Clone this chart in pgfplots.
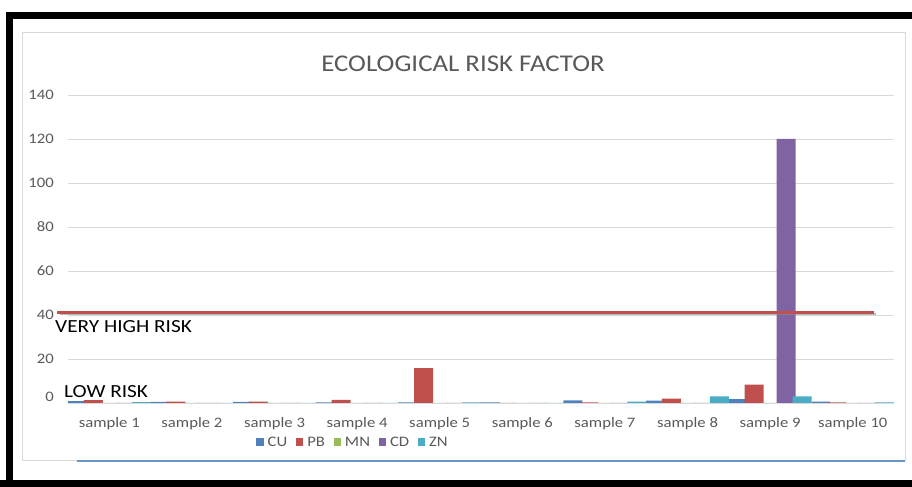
\documentclass[border=0pt]{standalone}
\usepackage{fontspec}
\setmainfont{Carlito}
\newfontfamily\widefont[FakeStretch=1.15]{Carlito}
\newfontfamily\titlefont[FakeStretch=1.12]{Carlito}
\usepackage{pgfplots}
\pgfplotsset{compat=1.18}

\definecolor{cuC}{HTML}{4F81BD}
\definecolor{pbC}{HTML}{C0504D}
\definecolor{mnC}{HTML}{9BBB59}
\definecolor{cdC}{HTML}{8064A2}
\definecolor{znC}{HTML}{4BACC6}
\definecolor{gridC}{HTML}{D9D9D9}
\definecolor{labelC}{HTML}{595959}

\newcommand{\tickfont}{\widefont\fontsize{14.5bp}{16bp}\selectfont}

\begin{document}
\begin{tikzpicture}[x=1bp,y=1bp]
\path[use as bounding box] (0,0) rectangle (912,487);
% black outer frame
\fill[black] (6,0) rectangle (13,475);
\fill[black] (6,468) rectangle (912,475);
\fill[black] (0,0) rectangle (912,7);
% chart area border
\draw[gridC, line width=1bp] (22,26) rectangle (905,454);
\draw[cuC!85, line width=2bp] (77,26) -- (905,26);

\begin{axis}[
  at={(68bp,84bp)}, anchor=south west,
  scale only axis, width=826bp, height=308bp,
  xmin=-0.5, xmax=9.5, ymin=0, ymax=140,
  clip=false,
  axis line style={draw=none},
  major tick length=0pt,
  ytick={0,20,...,140},
  yticklabels={,20,40,60,80,100,120,140},
  ymajorgrids, grid style={gridC, line width=0.9bp},
  xtick={0,...,9},
  xticklabels={sample 1,sample 2,sample 3,sample 4,sample 5,sample 6,sample 7,sample 8,sample 9,sample 10},
  /pgf/number format/assume math mode=true,
  tick label style={font=\tickfont, text=labelC},
  yticklabel style={anchor=east, inner sep=0pt, xshift=-14bp},
  xticklabel style={anchor=center, inner sep=0pt, yshift=-21bp},
  ybar, bar width=0.23,
  legend columns=5,
  legend style={at={(0.345,-0.127)}, anchor=center, draw=none, fill=none,
    font=\tickfont, text=labelC,
    /tikz/every odd column/.append style={column sep=2bp},
    /tikz/every even column/.append style={column sep=6.5bp},
    inner sep=0pt, row sep=0pt},
  legend image code/.code={\fill[#1,draw=none] (0bp,-3.5bp) rectangle (7.5bp,4bp);},
]
% CU
\addplot[fill=cuC, draw=none, bar shift=-0.387] coordinates
  {(0,0.8) (1,0.5) (2,0.5) (3,0.3) (4,0.3) (5,0.3) (6,1.2) (7,1.1) (8,1.8) (9,0.6)};
% PB
\addplot[fill=pbC, draw=none, bar shift=-0.194] coordinates
  {(0,1.3) (1,0.6) (2,0.6) (3,1.4) (4,15.8) (5,0) (6,0.3) (7,2.0) (8,8.3) (9,0.3)};
% MN
\addplot[fill=mnC, draw=none, bar shift=0] coordinates
  {(0,0) (1,0) (2,0) (3,0) (4,0) (5,0) (6,0) (7,0) (8,0) (9,0)};
% CD
\addplot[fill=cdC, draw=none, bar shift=0.194] coordinates
  {(0,0) (1,0) (2,0) (3,0) (4,0) (5,0) (6,0) (7,0) (8,120) (9,0)};
% ZN
\addplot[fill=znC, draw=none, bar shift=0.387] coordinates
  {(0,0.4) (1,0) (2,0) (3,0) (4,0.3) (5,0) (6,0.6) (7,3.0) (8,3.0) (9,0.3)};
\legend{CU,PB,MN,CD,ZN}
% risk threshold line with its shadow
\addplot[sharp plot, forget plot, black!45, opacity=0.6, line width=2bp]
  coordinates {(-0.6,40.5) (9.28,40.5)};
\addplot[sharp plot, forget plot, pbC, line width=3bp]
  coordinates {(-0.63,41.3) (9.26,41.3)};
\end{axis}

% title and annotations
\node[text=labelC, font=\titlefont\fontsize{24bp}{27bp}\selectfont] at (463,423) {ECOLOGICAL RISK FACTOR};
\node[anchor=east, inner sep=0pt, text=labelC, font=\tickfont] at (54,90) {0};
\node[anchor=west, inner sep=0pt, font=\widefont\fontsize{18.5bp}{20bp}\selectfont] at (55,160) {VERY HIGH RISK};
\node[anchor=west, inner sep=0pt, font=\widefont\fontsize{18.5bp}{20bp}\selectfont] at (64,95) {LOW RISK};
\end{tikzpicture}
\end{document}
